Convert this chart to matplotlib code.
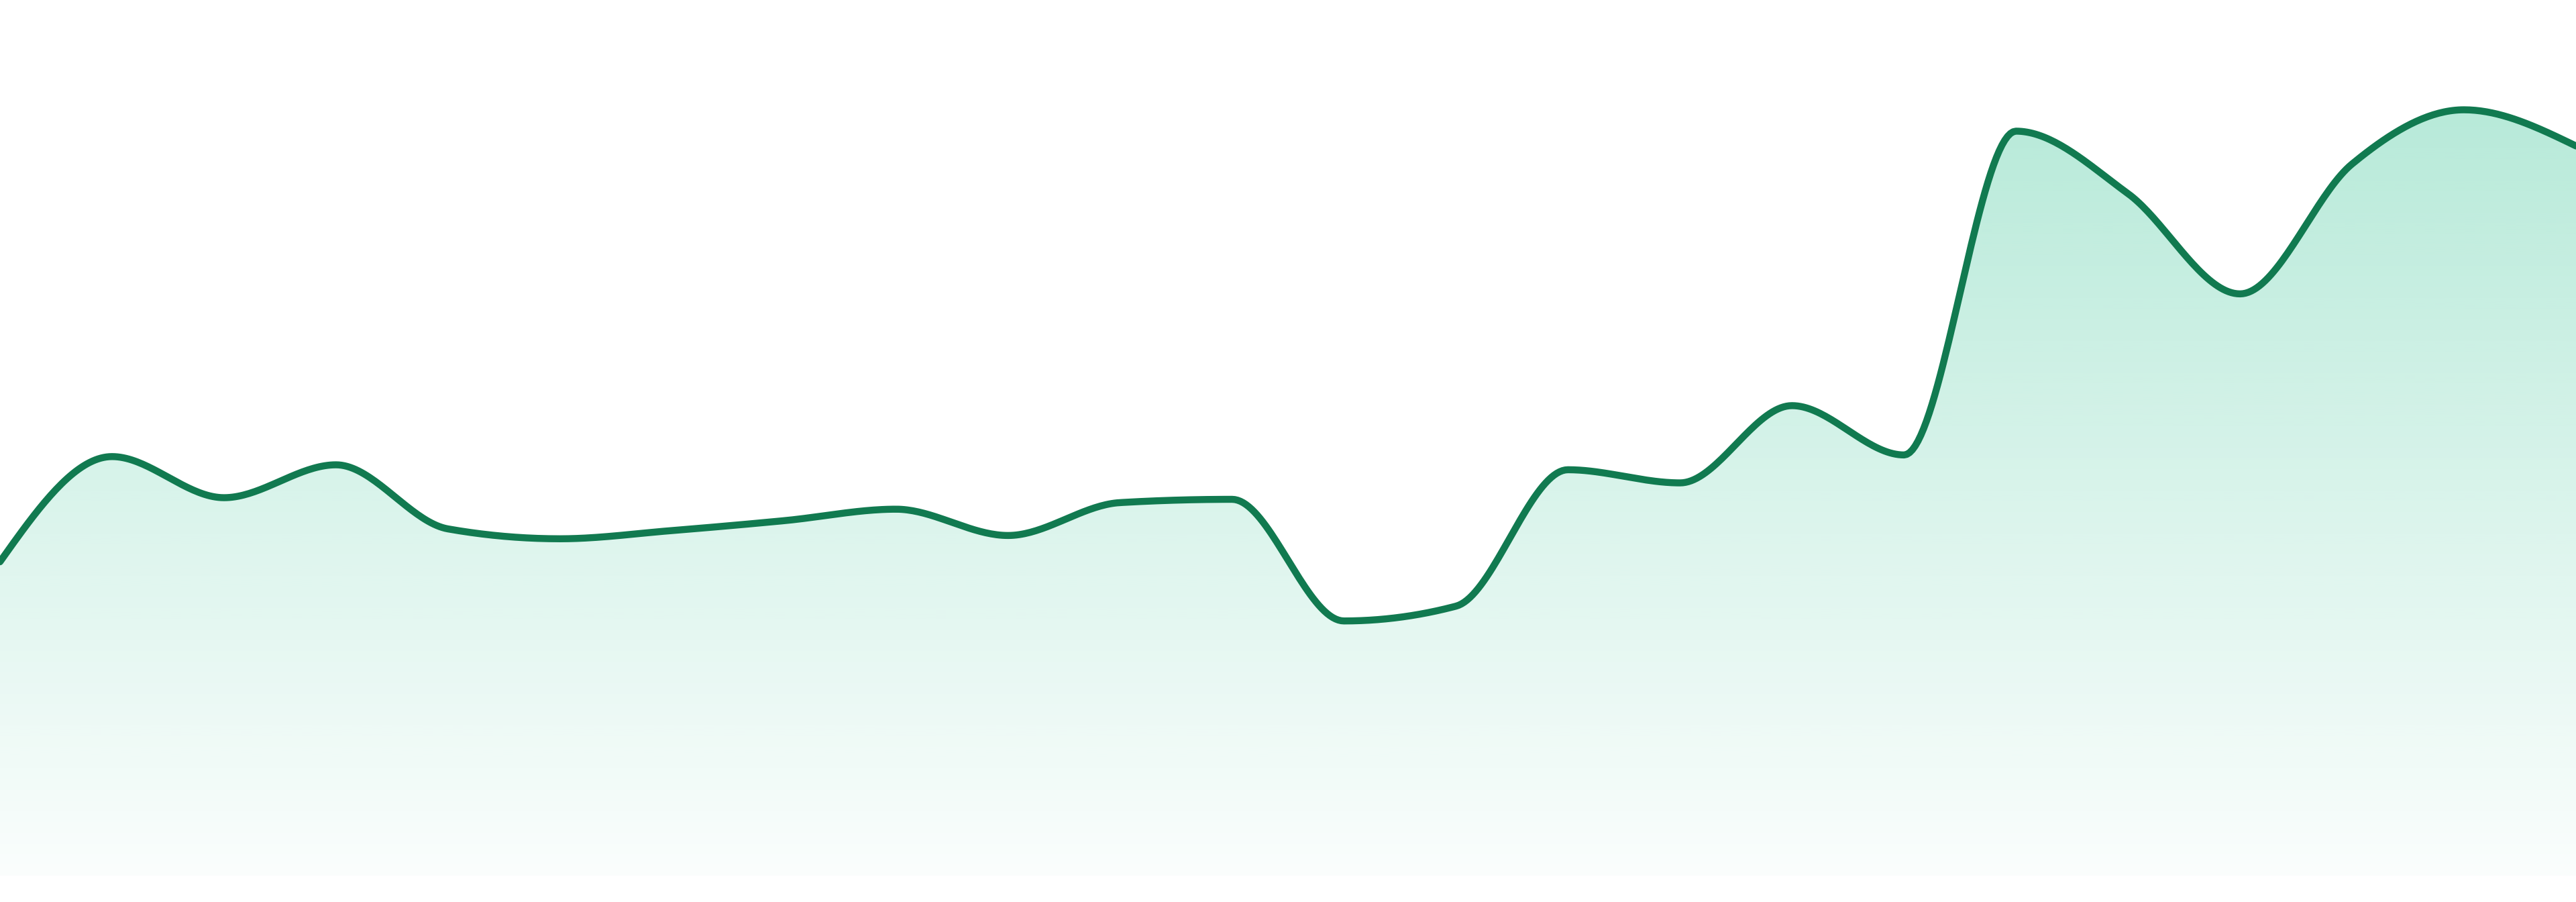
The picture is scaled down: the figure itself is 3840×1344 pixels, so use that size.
import numpy as np
import matplotlib
matplotlib.use('Agg')
import matplotlib.pyplot as plt
from matplotlib.colors import to_rgb

# ---------------- DATA ----------------
months = list(range(24))
values = [191, 255, 230, 250, 211, 205, 210, 216, 223, 207, 227, 229,
          155, 164, 247, 239, 286, 256, 453, 415, 354, 433, 466, 444]

LINE_COLOR = '#117a50'
FILL_COLOR = '#10b981'


# ---------------- MONOTONE CURVE (like d3 curveMonotoneX) ----------------
def monotone_curve(x, y, n=40):
    x = np.asarray(x, float)
    y = np.asarray(y, float)
    h = np.diff(x)
    s = np.diff(y) / h
    t = np.zeros_like(y)
    for i in range(1, len(y) - 1):
        p = (s[i - 1] * h[i] + s[i] * h[i - 1]) / (h[i - 1] + h[i])
        t[i] = (np.sign(s[i - 1]) + np.sign(s[i])) * min(abs(s[i - 1]), abs(s[i]), 0.5 * abs(p))
    t[0] = (3 * s[0] - t[1]) / 2
    t[-1] = (3 * s[-1] - t[-2]) / 2

    xs, ys = [], []
    for i in range(len(x) - 1):
        u = np.linspace(0, 1, n, endpoint=False)
        dx = h[i]
        p0, p3 = y[i], y[i + 1]
        p1 = p0 + t[i] * dx / 3
        p2 = p3 - t[i + 1] * dx / 3
        xs.append(x[i] + u * dx)
        ys.append((1 - u) ** 3 * p0 + 3 * (1 - u) ** 2 * u * p1 + 3 * (1 - u) * u ** 2 * p2 + u ** 3 * p3)
    xs.append([x[-1]])
    ys.append([y[-1]])
    return np.concatenate(xs), np.concatenate(ys)


cx, cy = monotone_curve(months, values)

# ---------------- PLOT ----------------
fig = plt.figure(figsize=(38.4, 13.44), dpi=100)
ax = fig.add_axes([0, 0, 1, 1])
ax.set_xlim(months[0], months[-1])
ax.set_ylim(-16, 532.8)
ax.axis('off')

# gradient fill clipped to the area under the curve
poly = ax.fill_between(cx, cy, 0, color='none', lw=0)
top = max(values)
rgb = np.array(to_rgb(FILL_COLOR))
grad = np.zeros((256, 1, 4))
grad[:, 0, :3] = rgb
grad[:, 0, 3] = np.linspace(0.30, 0.02, 256)
img = ax.imshow(grad, extent=[months[0], months[-1], 0, top], origin='upper',
                aspect='auto', interpolation='bilinear', zorder=1)
img.set_clip_path(poly.get_paths()[0], transform=ax.transData)

ax.plot(cx, cy, color=LINE_COLOR, lw=7.5, solid_capstyle='round',
        solid_joinstyle='round', zorder=3)

fig.savefig('out.png', dpi=100, facecolor='white')
